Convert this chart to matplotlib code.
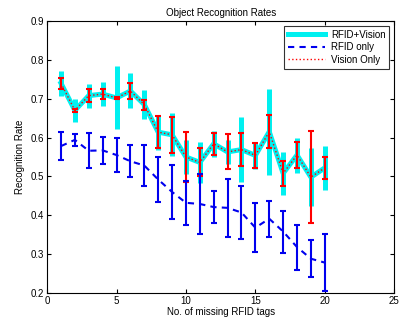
import numpy as np
import matplotlib
matplotlib.use('Agg')
import matplotlib.pyplot as plt
from matplotlib.lines import Line2D

plt.rcParams['font.family'] = ['Liberation Sans', 'DejaVu Sans']

# 缺失标签数
n_missing = np.arange(1, 21)

# RFID+Vision 均值与误差
fused_mean = [0.740, 0.670, 0.708, 0.712, 0.702, 0.720, 0.685, 0.614, 0.607, 0.550,
              0.536, 0.584, 0.563, 0.569, 0.554, 0.615, 0.508, 0.555, 0.498, 0.522]
fused_err = [0.032, 0.030, 0.031, 0.030, 0.081, 0.045, 0.037, 0.045, 0.055, 0.045,
             0.053, 0.034, 0.030, 0.084, 0.035, 0.111, 0.056, 0.045, 0.075, 0.056]

# Vision Only 均值与误差
vision_mean = fused_mean
vision_err = [0.014, 0.004, 0.016, 0.012, 0.003, 0.020, 0.013, 0.042, 0.046, 0.065,
              0.036, 0.029, 0.045, 0.042, 0.032, 0.043, 0.032, 0.034, 0.118, 0.029]

# RFID only 均值与误差
rfid_mean = [0.578, 0.594, 0.566, 0.567, 0.555, 0.539, 0.528, 0.492, 0.460, 0.432,
             0.429, 0.421, 0.419, 0.407, 0.368, 0.391, 0.358, 0.318, 0.288, 0.278]
rfid_err = [0.037, 0.015, 0.045, 0.034, 0.044, 0.041, 0.052, 0.057, 0.069, 0.056,
            0.077, 0.042, 0.074, 0.069, 0.063, 0.046, 0.054, 0.058, 0.048, 0.074]

cyan = '#00f0f0'
red = '#ff0000'
blue = '#0000ee'

fig = plt.figure(figsize=(3.99, 3.24), dpi=100)
ax = fig.add_axes([0.118, 0.096, 0.870, 0.839])

ax.errorbar(n_missing, fused_mean, yerr=fused_err, color=cyan, lw=3.6,
            elinewidth=3.6, capsize=0, zorder=1)
ax.errorbar(n_missing, vision_mean, yerr=vision_err, color=red, ls=':', lw=1.0,
            elinewidth=1.5, capsize=2.5, capthick=1.5, zorder=2)
ax.errorbar(n_missing, rfid_mean, yerr=rfid_err, color=blue, ls=(0, (3, 2.5)), lw=1.5,
            elinewidth=1.5, capsize=2.5, capthick=1.5, zorder=3)

ax.set_xlim(0, 25)
ax.set_ylim(0.2, 0.9)
ax.set_xticks([0, 5, 10, 15, 20, 25])
ax.set_yticks(np.arange(0.2, 0.91, 0.1))
ax.set_yticklabels(['0.2', '0.3', '0.4', '0.5', '0.6', '0.7', '0.8', '0.9'])
ax.tick_params(direction='in', top=True, right=True, labelsize=7, length=3, pad=2)
ax.set_title('Object Recognition Rates', fontsize=7, pad=4)
ax.set_xlabel('No. of missing RFID tags', fontsize=7, labelpad=1)
ax.set_ylabel('Recognition Rate', fontsize=7, labelpad=4)

handles = [Line2D([], [], color=cyan, lw=3.6),
           Line2D([], [], color=blue, lw=1.5, ls=(0, (3, 2.5))),
           Line2D([], [], color=red, lw=1.0, ls=':')]
leg = ax.legend(handles, ['RFID+Vision', 'RFID only', 'Vision Only'],
                loc='upper right', fontsize=7, frameon=True, fancybox=False,
                edgecolor='black', handlelength=3.8, borderpad=0.4,
                labelspacing=0.25, handletextpad=0.6, borderaxespad=0.5)
leg.get_frame().set_linewidth(0.8)

fig.savefig('out.png', dpi=100)
